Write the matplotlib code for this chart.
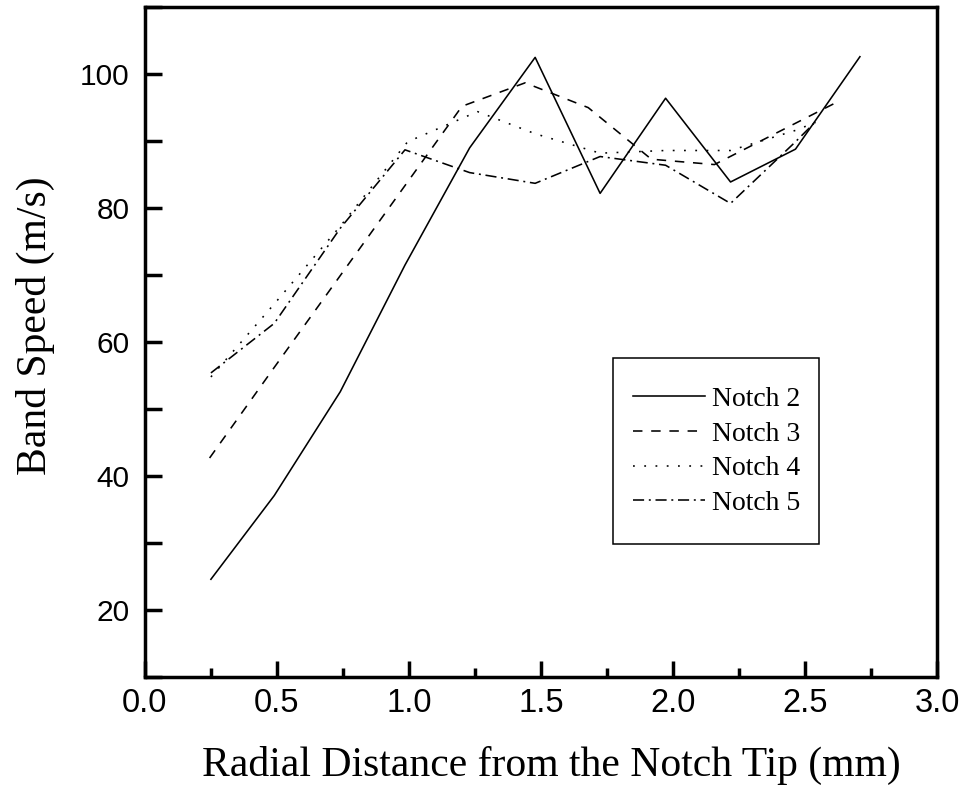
import matplotlib
matplotlib.use("Agg")
import matplotlib.pyplot as plt
from matplotlib.ticker import MultipleLocator, FormatStrFormatter
from matplotlib.patches import Rectangle

# data
x_notch2 = [0.25, 0.49, 0.74, 0.985, 1.23, 1.478, 1.724, 1.972, 2.218, 2.464, 2.708]
y_notch2 = [24.6, 37.1, 52.6, 71.5, 89.0, 102.5, 82.2, 96.4, 83.9, 88.8, 102.6]

x_notch3 = [0.245, 0.484, 0.723, 0.962, 1.201, 1.44, 1.679, 1.918, 2.157, 2.396, 2.635]
y_notch3 = [42.7, 55.9, 69.0, 82.1, 95.2, 98.7, 95.0, 87.3, 86.5, 91.3, 96.1]

x_notch4 = [0.25, 0.49, 0.74, 0.995, 1.26, 1.478, 1.724, 1.972, 2.218, 2.464, 2.54]
y_notch4 = [54.8, 65.7, 77.3, 89.9, 94.4, 91.1, 88.2, 88.6, 88.6, 91.6, 92.8]

x_notch5 = [0.25, 0.49, 0.74, 0.985, 1.23, 1.478, 1.724, 1.972, 2.218, 2.464, 2.54]
y_notch5 = [55.4, 62.8, 77.0, 88.7, 85.3, 83.7, 87.7, 86.4, 80.7, 89.9, 92.9]

labels = ["Notch 2", "Notch 3", "Notch 4", "Notch 5"]

plt.rcParams["lines.scale_dashes"] = False

fig = plt.figure(figsize=(9.66, 7.91), dpi=100)
ax = fig.add_axes([0.150, 0.144, 0.820, 0.847])

lw = 1.15
ax.plot(x_notch2, y_notch2, color="black", lw=lw, linestyle="-", label=labels[0])
ax.plot(x_notch3, y_notch3, color="black", lw=lw, linestyle=(0, (6.8, 6.3)), label=labels[1])
ax.plot(x_notch4, y_notch4, color="black", lw=lw, linestyle=(0, (1.3, 6.8)), label=labels[2])
ax.plot(x_notch5, y_notch5, color="black", lw=lw, linestyle=(0, (8.0, 3.4, 1.4, 3.4)), label=labels[3])

ax.set_xlim(0, 3.0)
ax.set_ylim(10, 110)
ax.xaxis.set_major_locator(MultipleLocator(0.5))
ax.xaxis.set_minor_locator(MultipleLocator(0.25))
ax.yaxis.set_major_locator(MultipleLocator(20))
ax.yaxis.set_minor_locator(MultipleLocator(10))
ax.xaxis.set_major_formatter(FormatStrFormatter("%.1f"))

for s in ax.spines.values():
    s.set_linewidth(2.5)

ax.tick_params(axis="both", which="both", direction="in", width=2.5,
               top=False, right=False)
ax.tick_params(axis="x", which="major", length=11.5, pad=8)
ax.tick_params(axis="x", which="minor", length=6.5)
ax.tick_params(axis="y", which="both", length=12, pad=11)

for lab in ax.get_xticklabels():
    lab.set_fontfamily("Liberation Sans")
    lab.set_fontsize(23.5)
for lab in ax.get_yticklabels():
    lab.set_fontfamily("Liberation Sans")
    lab.set_fontsize(21.5)

ax.set_xlabel("Radial Distance from the Notch Tip (mm)", fontfamily="Liberation Serif",
              fontsize=30, labelpad=19)
ax.set_ylabel("Band Speed (m/s)", fontfamily="Liberation Serif",
              fontsize=30, labelpad=18)
ax.xaxis.label.set_x(0.513)
ax.yaxis.label.set_y(0.525)

# legend without its own frame; the box is drawn separately
leg = ax.legend(loc="upper left", bbox_to_anchor=(0.5905, 0.4636), borderaxespad=0,
                prop={"family": "Liberation Serif", "size": 20},
                handlelength=2.6, handletextpad=0.25, borderpad=0.72,
                labelspacing=0.335, frameon=False)
ax.add_patch(Rectangle((0.5905, 0.198), 0.2601, 0.279, transform=ax.transAxes,
                       fill=False, edgecolor="black", linewidth=1.1, zorder=5))

fig.savefig("out.png", dpi=100)
